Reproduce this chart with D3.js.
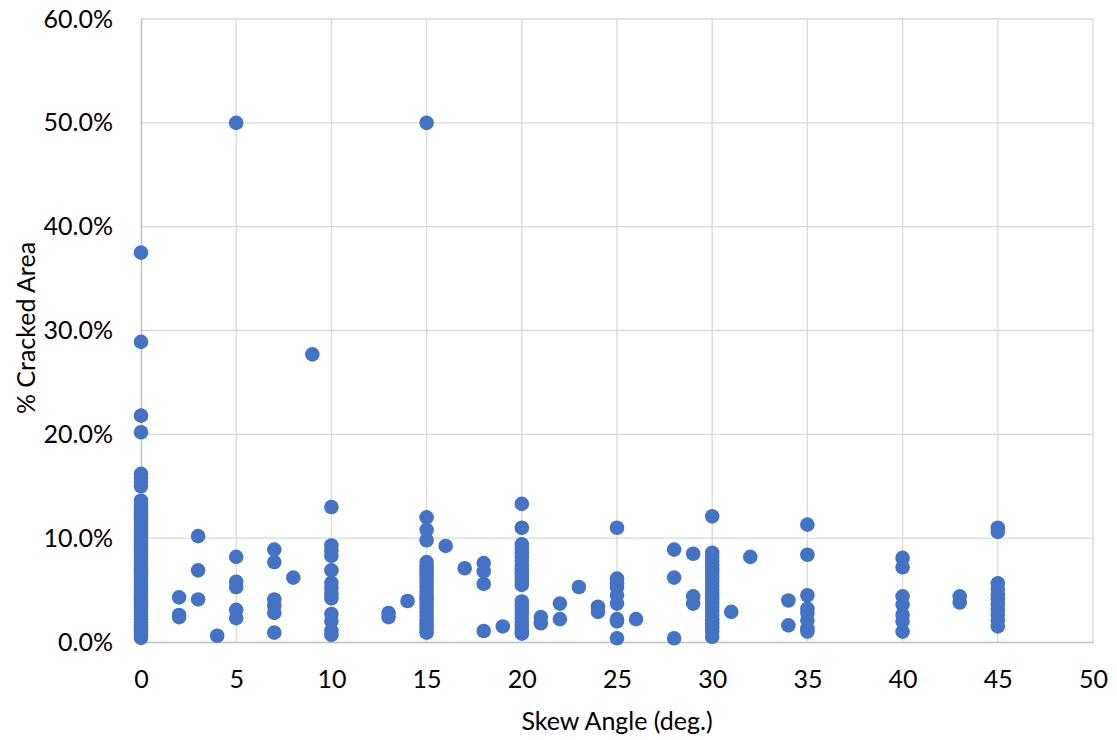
<!DOCTYPE html>
<html><head><meta charset="utf-8">
<script src="https://cdn.jsdelivr.net/npm/d3@7"></script>
<style>
body{margin:0;background:#fff;}
text{font-family:Lato,"Open Sans",sans-serif;fill:#000;}
</style></head>
<body><svg id="c" width="1117" height="740"></svg>
<script>
const skewAngles = [0,2,3,4,5,7,8,9,10,13,14,15,16,17,18,19,20,21,22,23,24,25,26,28,29,30,31,32,34,35,40,43,45];
const crackedPct = [
 [0.4,0.7,1.0,1.3,1.6,1.9,2.2,2.5,2.8,3.1,3.4,3.7,4.0,4.3,4.6,4.9,5.2,5.5,5.8,6.1,6.4,6.7,7.0,7.3,7.6,7.9,8.2,8.5,8.8,9.1,9.4,9.7,10.0,10.3,10.6,10.9,11.2,11.5,11.8,12.1,12.4,12.7,13.0,13.3,13.6,15.0,15.4,15.8,16.2,20.2,21.8,28.9,37.5],
 [2.4,2.6,4.3],
 [4.1,6.9,10.2],
 [0.6],
 [2.3,3.1,5.3,5.8,8.2,50.0],
 [0.9,2.8,3.5,4.1,7.7,8.9],
 [6.2],
 [27.7],
 [0.7,1.1,2.0,2.7,4.2,4.7,5.2,5.7,6.9,8.3,8.8,9.3,13.0],
 [2.4,2.8],
 [3.95],
 [0.9,1.3,1.7,2.1,2.5,2.9,3.3,3.7,4.1,4.5,4.9,5.3,5.7,6.1,6.5,6.9,7.3,7.7,9.8,10.8,12.0,50.0],
 [9.25],
 [7.1],
 [1.06,5.6,6.8,7.6],
 [1.5],
 [0.8,1.1,1.5,1.9,2.3,2.7,3.1,3.5,3.9,5.5,5.8,6.2,6.6,7.0,7.4,7.8,8.2,8.6,9.0,9.4,11.0,13.3],
 [1.8,2.4],
 [2.2,3.7],
 [5.3],
 [2.9,3.4],
 [0.36,2.0,2.2,3.7,4.5,5.3,5.65,6.1,11.0],
 [2.2],
 [0.36,6.2,8.9],
 [3.7,4.4,8.5],
 [0.5,1.0,1.4,1.8,2.2,2.6,3.0,3.4,3.8,4.2,4.6,5.0,5.4,5.8,6.2,6.6,7.0,7.4,7.8,8.2,8.6,12.1],
 [2.9],
 [8.2],
 [1.6,4.0],
 [1.0,1.3,2.1,2.8,3.2,4.5,8.4,11.3],
 [1.0,2.0,2.6,3.6,4.4,7.2,8.1],
 [3.8,4.4],
 [1.5,2.1,2.6,3.1,3.6,4.1,4.6,5.1,5.65,10.6,11.0]
];
const xTicks = [0,5,10,15,20,25,30,35,40,45,50];
const yTicks = [0,0.1,0.2,0.3,0.4,0.5,0.6];
const xTitle = "Skew Angle (deg.)";
const yTitle = "% Cracked Area";

const points = [];
skewAngles.forEach((a,i)=>crackedPct[i].forEach(v=>points.push({x:a,y:v/100})));

const svg = d3.select("#c");
const L=141,R=1093,T=19,B=642;
const FS=25;
const x = d3.scaleLinear().domain([0,50]).range([L,R]);
const y = d3.scaleLinear().domain([0,0.6]).range([B,T]);

// gridlines
svg.append("g").selectAll("line").data(xTicks.filter(d=>d>0)).join("line")
  .attr("x1",d=>x(d)).attr("x2",d=>x(d)).attr("y1",T).attr("y2",B)
  .attr("stroke","#d9d9d9").attr("stroke-width",1.3);
svg.append("g").selectAll("line").data(yTicks.filter(d=>d>0)).join("line")
  .attr("x1",L).attr("x2",R).attr("y1",d=>y(d)).attr("y2",d=>y(d))
  .attr("stroke","#d9d9d9").attr("stroke-width",1.3);

// axes
const xAxis = svg.append("g").attr("transform",`translate(0,${B})`)
  .call(d3.axisBottom(x).tickValues(xTicks).tickSize(0).tickPadding(28).tickFormat(d3.format("d")));
const yAxis = svg.append("g").attr("transform",`translate(${L},0)`)
  .call(d3.axisLeft(y).tickValues(yTicks).tickSize(0).tickPadding(28).tickFormat(d3.format(".1%")));
[xAxis,yAxis].forEach(g=>{
  g.select(".domain").attr("stroke","#bfbfbf").attr("stroke-width",1.5);
  g.selectAll("text").attr("font-size",FS).attr("font-family","Lato, sans-serif").attr("fill","#000");
});

// points
svg.append("g").selectAll("circle").data(points).join("circle")
  .attr("cx",d=>x(d.x)).attr("cy",d=>y(d.y)).attr("r",7.3)
  .attr("fill","#4472c4");

// titles
svg.append("text").attr("x",617).attr("y",730).attr("text-anchor","middle")
  .attr("font-size",FS).text(xTitle);
svg.append("text").attr("transform",`translate(35,328) rotate(-90)`)
  .attr("text-anchor","middle").attr("font-size",FS).text(yTitle);
</script></body></html>
